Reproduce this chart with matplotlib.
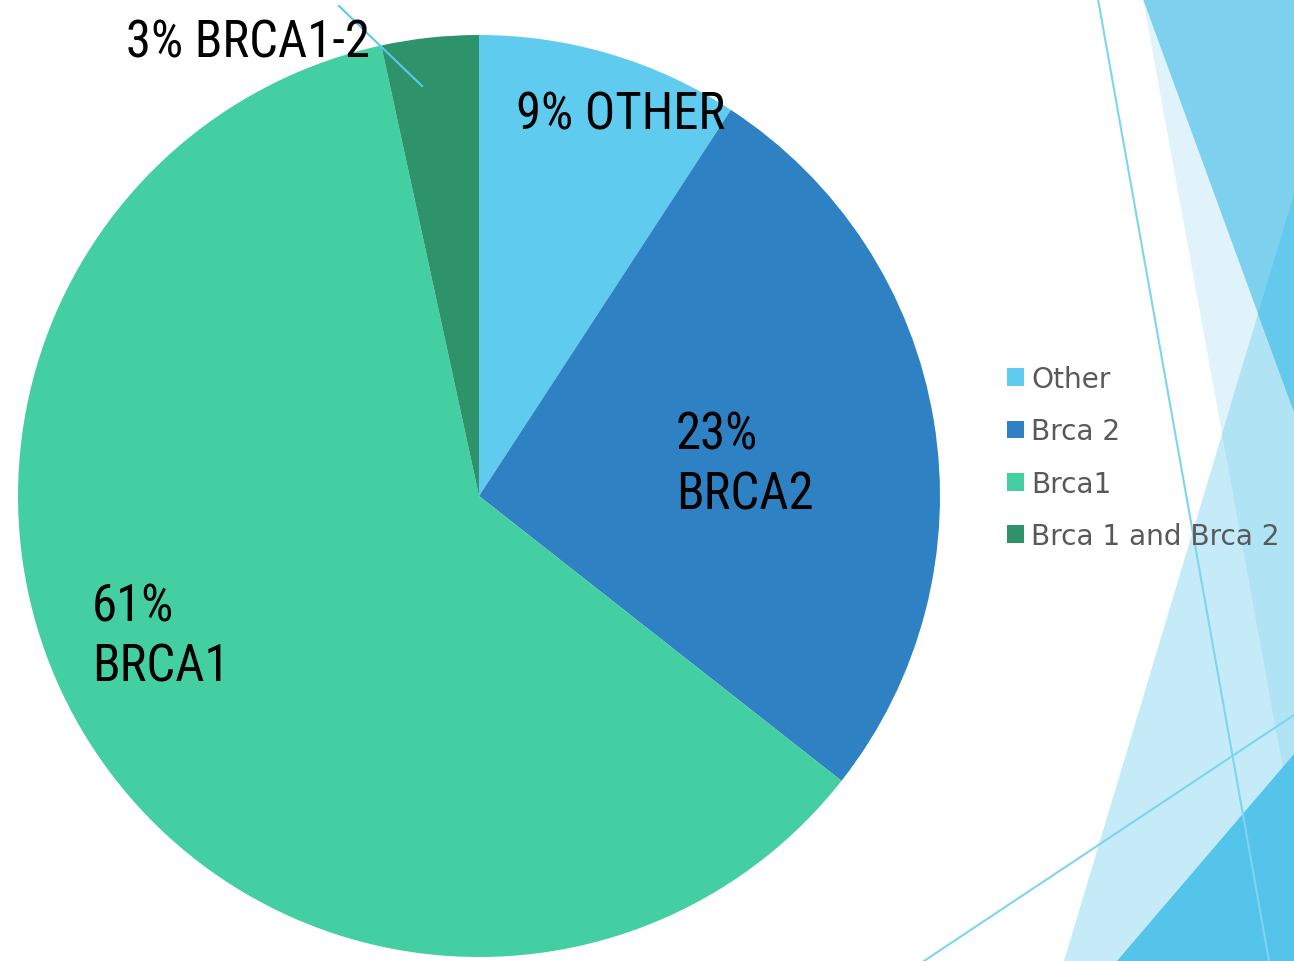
import matplotlib.pyplot as plt
from matplotlib.patches import Polygon
from matplotlib import font_manager as fm

# data
categories = ['Other', 'Brca 2', 'Brca1', 'Brca 1 and Brca 2']
shares = [9.2, 26.4, 61.0, 3.4]
slice_labels = ['9% OTHER', '23%\nBRCA2', '61%\nBRCA1', '3% BRCA1-2']
colors = ['#5FCBEF', '#2E82C3', '#43CFA2', '#2E936B']

W, H = 1294, 962
fig = plt.figure(figsize=(W / 100, H / 100), dpi=100)

# background decoration (slide theme), pixel coords
bg = fig.add_axes([0, 0, 1, 1])
bg.set_xlim(0, W)
bg.set_ylim(H, 0)
bg.axis('off')
shapes = [
    ([(1143, 0), (1318, 962), (1400, 962), (1400, 0)], '#E0F3FA'),
    ([(1064, 962), (1294, 195), (1294, 962)], '#C5EBF8'),
    ([(1294, 195), (1222, 435), (1294, 830)], '#B0E4F5'),
    ([(1143, 0), (1294, 0), (1294, 413)], '#7DD1EE'),
    ([(1258, 315), (1294, 195), (1294, 413)], '#64C9EC'),
    ([(1117, 962), (1294, 755), (1294, 962)], '#55C4EB'),
]
for pts, c in shapes:
    bg.add_patch(Polygon(pts, closed=True, facecolor=c, edgecolor='none'))
for (x0, y0), (x1, y1) in [((1098, 0), (1269, 962)), ((924, 962), (1294, 716))]:
    bg.plot([x0, x1], [y0, y1], color='#7FD4F0', lw=1.5)

# pie: centre (479, 497), radius 461 px
cx, cy, r = 479, 497, 461
ax = fig.add_axes([(cx - r) / W, (H - cy - r) / H, 2 * r / W, 2 * r / H])
wedges, _ = ax.pie(shares, colors=colors, startangle=90, counterclock=False,
                   radius=1, wedgeprops=dict(edgecolor='none'))
ax.set_xlim(-1, 1)
ax.set_ylim(-1, 1)
ax.axis('off')

# overlay for labels, pixel coords
top = fig.add_axes([0, 0, 1, 1])
top.set_xlim(0, W)
top.set_ylim(H, 0)
top.axis('off')
top.patch.set_alpha(0)
top.plot([339, 422], [7, 87], color='#5BC8EC', lw=1.5)

# narrow face if there is one, else shrink a normal one
have = {f.name for f in fm.fontManager.ttflist}
lab_font, lab_size = ['DejaVu Sans'], 29
for name, size in [('Roboto Condensed', 36.5), ('Liberation Sans Narrow', 34.5),
                   ('Roboto', 31)]:
    if name in have:
        lab_font, lab_size = [name, 'DejaVu Sans'], size
        break

lab_pos = [(516, 130), (676, 510), (92, 682), (126, 58)]
for txt, (x, y) in zip(slice_labels, lab_pos):
    top.text(x, y, txt, family=lab_font, fontsize=lab_size, color='black',
             ha='left', va='baseline', linespacing=1.27)

leg = fig.legend(wedges, categories, loc='upper left',
                 bbox_to_anchor=(1007 / W, 1 - 366 / H),
                 frameon=False, fontsize=20.2, handlelength=0.6,
                 handleheight=0.6, handletextpad=0.26, labelspacing=0.87,
                 borderpad=0, borderaxespad=0, labelcolor='#595959')

fig.savefig('out.png', dpi=100)
